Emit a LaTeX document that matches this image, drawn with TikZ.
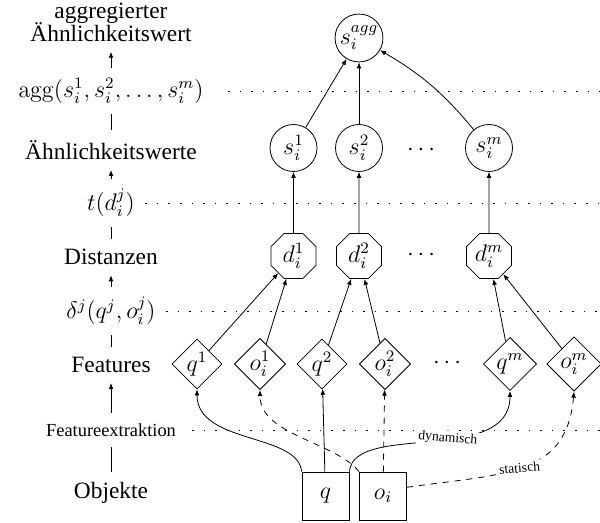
\documentclass[tikz,border=0pt]{standalone}
\usepackage[no-math]{fontspec}
\setmainfont{Liberation Serif}
\usetikzlibrary{shapes.geometric,arrows.meta}
\begin{document}
\begin{tikzpicture}[x=0.5pt,y=0.5pt,
  every node/.style={font=\fontsize{12}{14}\selectfont},
  lbl/.style={inner sep=5pt, align=center},
  txt/.style={font=\fontsize{11.7}{14}\selectfont},
  circ/.style={circle,draw,minimum size=23.5pt,inner sep=0.5pt},
  oct/.style={regular polygon,regular polygon sides=8,draw,minimum size=24.4pt,inner sep=0.5pt},
  dia/.style={diamond,draw,minimum width=24pt,minimum height=24pt,inner sep=0.7pt},
  obj/.style={rectangle,draw,minimum width=23.5pt,minimum height=24pt,inner sep=1pt},
  arr/.style={-{Latex[length=3pt,width=2.4pt]}},
  dot/.style={dash pattern=on 0.8pt off 5pt},
  ann/.style={font=\fontsize{6.8}{8}\selectfont, fill=white, inner sep=1pt}
]
\useasboundingbox (0,0) rectangle (600,523);
\coordinate (rx) at (600,0);

% left column
\node[lbl, font={\fontsize{11.7}{11.5}\selectfont\lineskiplimit=-20pt}] (lagg) at (111,501) {aggregierter\\Ähnlichkeitswert};
\node[lbl] (lagg2) at (111,432) {$\mathrm{agg}(s_i^1, s_i^2, \ldots, s_i^m)$};
\node[lbl, txt] (lsim) at (111,373) {Ähnlichkeitswerte};
\node[lbl] (lt) at (111,320) {$t(d_i^j)$};
\node[lbl, txt] (ldist) at (111,266) {Distanzen};
\node[lbl] (ldelta) at (111,212) {$\delta^j(q^j, o_i^j)$};
\node[lbl, txt] (lfeat) at (111,158) {Features};
\node[lbl, font=\fontsize{9.2}{11}\selectfont] (lfex) at (111,93) {Featureextraktion};
\node[lbl, txt] (lobj) at (111,30) {Objekte};

\draw (lobj) -- (lfex);
\draw[arr] (lfex) -- (lfeat);
\draw (lfeat) -- (ldelta);
\draw[arr] (ldelta) -- (ldist);
\draw (ldist) -- (lt);
\draw[arr] (lt) -- (lsim);
\draw (lsim) -- (lagg2);
\draw[arr] (lagg2) -- (lagg);

% dotted guide lines
\draw[dot, shorten <=7pt] (lagg2.east) -- (lagg2.east -| rx);
\draw[dot] (lt.east) -- (lt.east -| rx);
\draw[dot] (ldelta.east) -- (ldelta.east -| rx);
\draw[dot, shorten <=3pt] (lfex.east) -- (lfex.east -| rx);

% similarity values
\node[circ] (sagg) at (359,485) {$s_i^{agg}$};
\node[circ] (s1) at (293.5,375) {$s_i^1$};
\node[circ] (s2) at (359,375) {$s_i^2$};
\node (sdots) at (421,373) {$\cdots$};
\node[circ] (sm) at (489,375) {$s_i^m$};

% distances
\node[oct] (d1) at (293.5,267) {$d_i^1$};
\node[oct] (d2) at (359,267) {$d_i^2$};
\node (ddots) at (421,268) {$\cdots$};
\node[oct] (dm) at (489,267) {$d_i^m$};

% features
\node[dia] (q1) at (197,159) {$q^1$};
\node[dia] (o1) at (260,159) {$o_i^1$};
\node[dia] (q2) at (322,159) {$q^2$};
\node[dia] (o2) at (385,159) {$o_i^2$};
\node (fdots) at (447,160) {$\cdots$};
\node[dia] (qm) at (510,159) {$q^m$};
\node[dia] (om) at (574,159) {$o_i^m$};

% objects
\node[obj] (qbox) at (325.5,27) {$q$};
\node[obj] (obox) at (383,27) {$o_i$};

% edges
\draw[arr] (q1) -- (d1);
\draw[arr] (o1) -- (d1);
\draw[arr] (q2) -- (d2);
\draw[arr] (o2) -- (d2);
\draw[arr] (qm) -- (dm);
\draw[arr] (om) -- (dm);
\draw[arr] (d1) -- (s1);
\draw[arr] (d2) -- (s2);
\draw[arr] (dm) -- (sm);
\draw[arr] (s1) -- (sagg);
\draw[arr] (s2) -- (sagg);
\draw[arr] (sm) to[bend right=10] (sagg);

\draw[arr] (qbox.north west) .. controls +(95:39) and +(-90:55) .. (q1.south);
\draw[arr] (qbox) -- (q2);
\draw[arr] (qbox.north east) .. controls +(85:50) and +(-90:75) .. (qm.south)
  node[ann, pos=0.57, rotate=-5] {dynamisch};
\draw[arr, dashed] (obox.north west) .. controls +(130:40) and +(-90:45) .. (o1.south);
\draw[arr, dashed] (obox) -- (o2);
\draw[arr, dashed] (obox.20) .. controls +(8:100) and +(-95:85) .. (om.south)
  node[ann, pos=0.47, rotate=5] {statisch};
\end{tikzpicture}
\end{document}
